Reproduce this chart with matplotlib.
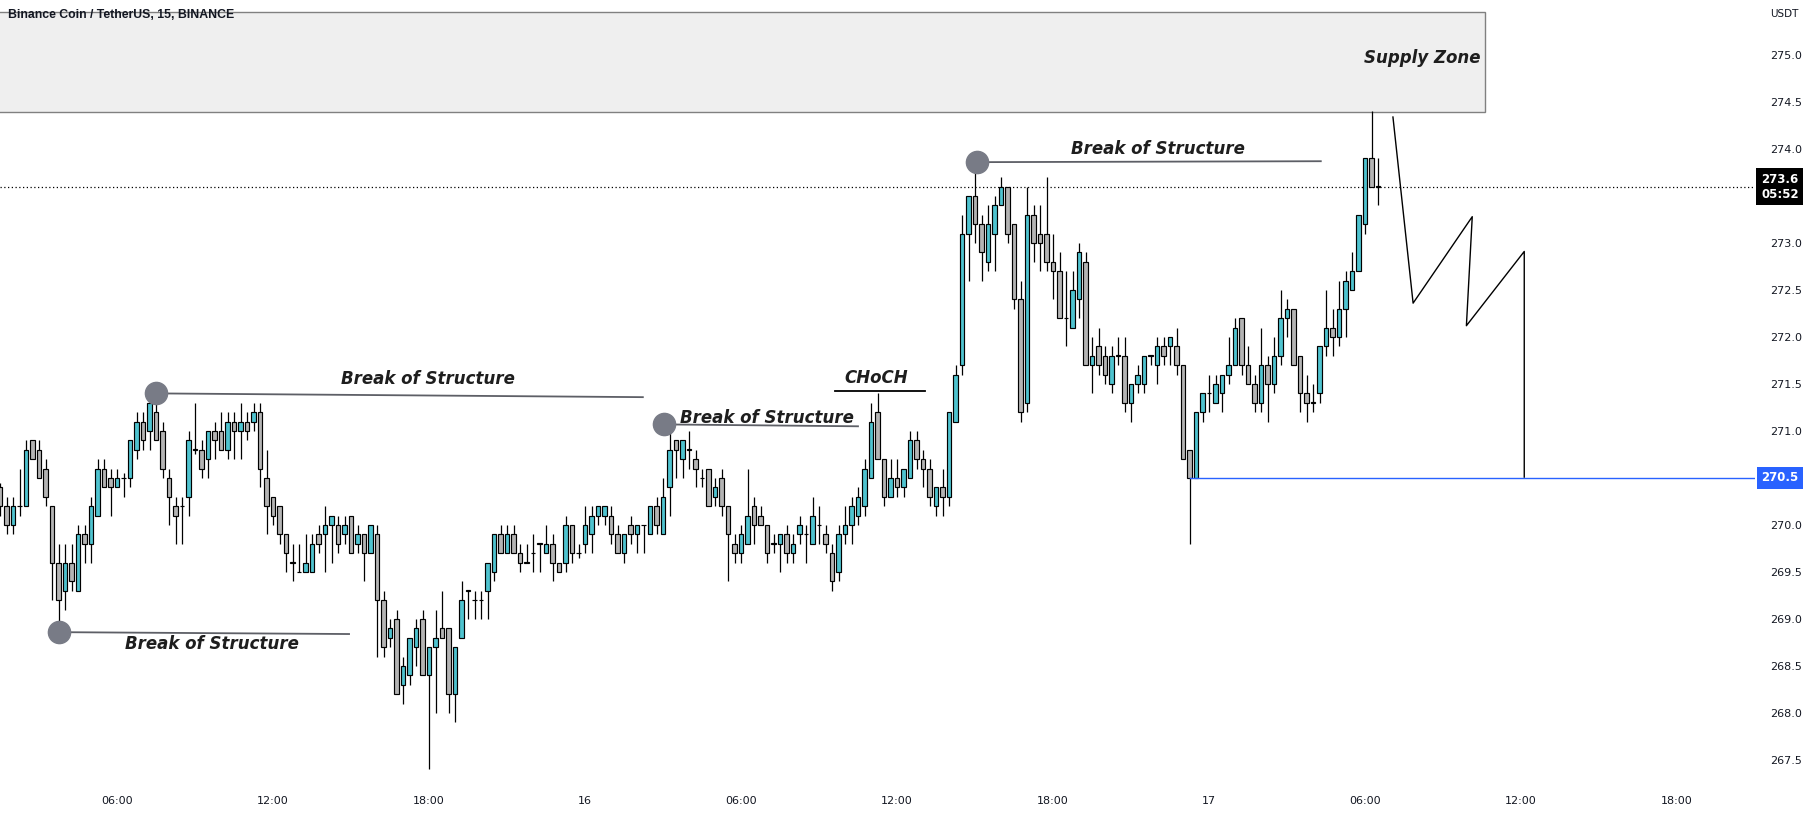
import numpy as np
import matplotlib
matplotlib.use('Agg')
import matplotlib.pyplot as plt
import matplotlib.transforms as mtransforms
from matplotlib.patches import Rectangle

# BNB/USDT 15m candles, bar index counted in 15-minute steps from 15th 00:00
first_bar = 6

opens = [270.40, 270.20, 270.00, 270.20, 270.20, 270.90, 270.80, 270.60, 270.20, 269.60,
         269.30, 269.60, 269.30, 269.90, 269.80, 270.10, 270.60, 270.50, 270.40, 270.50,
         270.50, 270.80, 271.10, 271.00, 271.20, 271.00, 270.50, 270.20, 270.20, 270.30,
         270.80, 270.80, 270.70, 271.00, 271.00, 270.80, 271.10, 271.00, 271.10, 271.10,
         271.20, 270.50, 270.30, 270.20, 269.90, 269.60, 269.50, 269.50, 269.50, 269.90,
         269.90, 270.00, 270.00, 269.90, 270.10, 269.80, 269.90, 269.70, 269.90, 269.20,
         268.80, 269.00, 268.30, 268.40, 268.70, 269.00, 268.40, 268.70, 268.90, 268.90,
         268.20, 268.80, 269.30, 269.20, 269.20, 269.30, 269.50, 269.90, 269.70, 269.90,
         269.70, 269.60, 269.70, 269.80, 269.70, 269.80, 269.60, 269.60, 270.00, 269.70,
         269.80, 269.90, 270.10, 270.10, 270.10, 269.90, 269.70, 270.00, 269.90, 270.00,
         269.90, 270.20, 269.90, 270.40, 270.90, 270.70, 270.80, 270.70, 270.50, 270.60,
         270.30, 270.50, 270.20, 269.80, 269.70, 269.80, 270.20, 270.10, 270.00, 269.80,
         269.80, 269.90, 269.70, 269.90, 269.90, 269.80, 270.00, 269.90, 269.70, 269.50,
         269.90, 270.00, 270.10, 270.20, 270.50, 271.20, 270.70, 270.30, 270.50, 270.40,
         270.50, 270.90, 270.70, 270.60, 270.20, 270.40, 270.30, 271.10, 271.70, 273.10,
         273.50, 273.20, 272.80, 273.10, 273.40, 273.60, 273.20, 272.40, 271.30, 273.30,
         273.10, 273.10, 272.80, 272.70, 272.20, 272.10, 272.40, 272.80, 271.70, 271.90,
         271.80, 271.50, 271.80, 271.80, 271.30, 271.50, 271.50, 271.80, 271.70, 271.90,
         271.90, 271.90, 271.70, 270.80, 270.50, 271.20, 271.40, 271.30, 271.40, 271.60,
         271.70, 272.20, 271.70, 271.50, 271.30, 271.70, 271.50, 271.80, 272.20, 272.30,
         271.80, 271.40, 271.30, 271.40, 271.90, 272.10, 272.00, 272.30, 272.50, 272.70,
         273.20, 273.90, 273.60]
highs = [270.45, 270.30, 270.30, 270.60, 270.90, 270.90, 270.90, 270.70, 270.20, 269.80,
         269.80, 269.80, 270.00, 270.00, 270.30, 270.70, 270.70, 270.60, 270.60, 270.55,
         270.90, 271.20, 271.20, 271.30, 271.40, 271.10, 270.60, 270.30, 270.30, 271.00,
         271.30, 270.90, 271.00, 271.10, 271.20, 271.20, 271.20, 271.30, 271.20, 271.30,
         271.30, 270.80, 270.30, 270.20, 269.90, 269.80, 269.80, 269.90, 269.90, 270.00,
         270.20, 270.10, 270.10, 270.10, 270.10, 270.00, 269.90, 270.00, 270.00, 269.30,
         269.00, 269.10, 268.60, 268.80, 269.00, 269.10, 268.70, 269.10, 269.30, 268.90,
         268.70, 269.40, 269.30, 269.30, 269.30, 269.60, 269.90, 270.00, 270.00, 270.00,
         269.80, 269.80, 269.90, 269.80, 270.00, 269.90, 269.60, 270.10, 270.00, 269.80,
         270.20, 270.20, 270.20, 270.20, 270.20, 270.00, 269.90, 270.10, 270.00, 270.00,
         270.20, 270.30, 270.50, 271.00, 270.90, 270.90, 271.00, 270.80, 270.60, 270.60,
         270.50, 270.60, 270.20, 269.90, 270.00, 270.60, 270.30, 270.20, 270.00, 269.90,
         269.90, 270.00, 269.90, 270.10, 270.00, 270.30, 270.20, 270.00, 269.80, 270.00,
         270.20, 270.30, 270.40, 270.70, 271.30, 271.40, 270.70, 270.70, 270.70, 270.60,
         271.00, 271.00, 270.80, 270.70, 270.40, 270.60, 271.20, 271.70, 273.30, 273.50,
         273.90, 273.30, 273.40, 273.50, 273.70, 273.60, 273.20, 272.60, 273.60, 273.40,
         273.40, 273.70, 273.10, 272.90, 272.70, 272.70, 273.00, 272.90, 272.00, 272.10,
         271.90, 271.90, 272.00, 272.00, 271.50, 271.70, 271.80, 271.80, 272.00, 272.00,
         272.00, 272.10, 271.70, 270.80, 271.20, 271.40, 271.60, 271.60, 271.60, 272.00,
         272.20, 272.20, 271.90, 271.60, 272.10, 271.80, 272.00, 272.50, 272.40, 272.30,
         271.80, 271.60, 271.50, 271.90, 272.50, 272.30, 272.60, 272.70, 272.90, 273.30,
         273.90, 274.40, 273.90]
lows = [270.10, 269.90, 269.90, 270.10, 270.20, 270.70, 270.50, 270.20, 269.20, 268.80,
        269.10, 269.30, 269.30, 269.60, 269.60, 270.10, 270.40, 270.10, 270.40, 270.30,
        270.40, 270.70, 270.80, 270.80, 270.90, 270.50, 270.00, 269.80, 269.80, 270.10,
        270.75, 270.50, 270.50, 270.70, 270.80, 270.70, 270.70, 270.70, 270.90, 271.00,
        270.40, 269.90, 270.00, 269.80, 269.50, 269.40, 269.50, 269.50, 269.50, 269.70,
        269.50, 269.60, 269.70, 269.80, 269.70, 269.70, 269.40, 269.70, 268.60, 268.60,
        268.70, 268.20, 268.10, 268.30, 268.50, 268.40, 267.40, 268.00, 268.80, 268.00,
        267.90, 268.80, 269.00, 269.00, 269.00, 269.00, 269.40, 269.70, 269.70, 269.70,
        269.50, 269.60, 269.50, 269.50, 269.70, 269.40, 269.50, 269.50, 269.60, 269.65,
        269.70, 269.70, 270.00, 270.00, 269.80, 269.70, 269.60, 269.80, 269.70, 269.70,
        269.90, 269.90, 269.90, 270.10, 270.50, 270.50, 270.60, 270.40, 270.40, 270.20,
        270.20, 270.10, 269.40, 269.60, 269.60, 269.80, 269.80, 270.00, 269.60, 269.70,
        269.50, 269.60, 269.60, 269.80, 269.60, 269.80, 269.80, 269.70, 269.30, 269.40,
        269.80, 269.80, 270.00, 270.10, 270.50, 270.70, 270.20, 270.30, 270.30, 270.30,
        270.50, 270.60, 270.40, 270.20, 270.10, 270.10, 270.20, 271.10, 271.60, 272.60,
        273.00, 272.60, 272.70, 272.70, 273.40, 273.00, 272.30, 271.10, 271.20, 272.80,
        272.70, 272.70, 272.40, 272.20, 271.90, 272.10, 272.20, 271.70, 271.40, 271.60,
        271.50, 271.40, 271.70, 271.20, 271.10, 271.40, 271.40, 271.70, 271.50, 271.70,
        271.70, 271.60, 270.70, 269.80, 270.50, 271.10, 271.20, 271.30, 271.20, 271.50,
        271.70, 271.60, 271.50, 271.20, 271.20, 271.10, 271.40, 271.70, 272.00, 271.70,
        271.20, 271.10, 271.20, 271.30, 271.80, 271.80, 271.90, 272.00, 272.50, 272.70,
        273.10, 273.60, 273.40]
closes = [270.20, 270.00, 270.20, 270.20, 270.80, 270.70, 270.50, 270.30, 269.60, 269.20,
          269.60, 269.40, 269.90, 269.80, 270.20, 270.60, 270.40, 270.40, 270.50, 270.50,
          270.90, 271.10, 270.90, 271.30, 270.90, 270.60, 270.30, 270.10, 270.20, 270.90,
          270.80, 270.60, 271.00, 270.90, 270.80, 271.10, 271.00, 271.10, 271.00, 271.20,
          270.60, 270.20, 270.10, 269.90, 269.70, 269.60, 269.50, 269.60, 269.80, 269.80,
          270.00, 270.10, 269.80, 270.00, 269.70, 269.90, 269.70, 270.00, 269.20, 268.70,
          268.90, 268.20, 268.50, 268.80, 268.90, 268.40, 268.70, 268.80, 268.80, 268.20,
          268.70, 269.20, 269.30, 269.20, 269.20, 269.60, 269.90, 269.70, 269.90, 269.70,
          269.60, 269.60, 269.70, 269.80, 269.80, 269.60, 269.50, 270.00, 269.70, 269.70,
          270.00, 270.10, 270.20, 270.20, 269.90, 269.70, 269.90, 269.90, 270.00, 270.00,
          270.20, 270.00, 270.30, 270.80, 270.80, 270.90, 270.80, 270.60, 270.50, 270.20,
          270.40, 270.20, 269.90, 269.70, 269.90, 270.10, 270.00, 270.00, 269.70, 269.80,
          269.90, 269.70, 269.80, 270.00, 269.90, 270.10, 270.00, 269.80, 269.40, 269.90,
          270.00, 270.20, 270.30, 270.60, 271.10, 270.70, 270.30, 270.50, 270.40, 270.60,
          270.90, 270.70, 270.60, 270.30, 270.40, 270.30, 271.20, 271.60, 273.10, 273.50,
          273.20, 272.90, 273.20, 273.40, 273.60, 273.10, 272.40, 271.20, 273.30, 273.00,
          273.00, 272.80, 272.70, 272.20, 272.20, 272.50, 272.90, 271.70, 271.80, 271.70,
          271.60, 271.80, 271.80, 271.30, 271.50, 271.60, 271.80, 271.80, 271.90, 271.80,
          272.00, 271.70, 270.70, 270.50, 271.20, 271.40, 271.40, 271.50, 271.60, 271.70,
          272.10, 271.70, 271.50, 271.30, 271.70, 271.50, 271.80, 272.20, 272.30, 271.70,
          271.40, 271.30, 271.30, 271.90, 272.10, 272.00, 272.30, 272.60, 272.70, 273.30,
          273.90, 273.60, 273.60]

# price axis / time axis labels
price_ticks = [275.0, 274.5, 274.0, 273.0, 272.5, 272.0, 271.5, 271.0, 270.0, 269.5,
               269.0, 268.5, 268.0, 267.5]
time_ticks = [24, 48, 72, 96, 120, 144, 168, 192, 216, 240, 264]
time_labels = ['06:00', '12:00', '18:00', '16', '06:00', '12:00', '18:00', '17',
               '06:00', '12:00', '18:00']

# drawings: (bar, price) pairs
bos_low = [(15, 268.86), (59.7, 268.84)]
bos_high1 = [(30, 271.40), (104.9, 271.36)]
bos_high2 = [(108.1, 271.07), (138, 271.05)]
choch = [(134.5, 271.43), (148.3, 271.43)]
bos_high3 = [(156.3, 273.86), (209.2, 273.87)]
projection_x = [220.3, 223.4, 232.5, 231.6, 240.5, 240.5]
projection_y = [274.34, 272.36, 273.28, 272.12, 272.91, 270.51]
supply_zone = (274.39, 275.46, 234.5)   # bottom, top, right edge bar
last_price = 273.6
support = 270.5

up_col = '#4fc3cf'
down_col = '#b4b4b4'
txt_col = '#131722'

W, H = 1814, 818
fig = plt.figure(figsize=(W / 100, H / 100), dpi=100)
ax_bottom = 785
ax_right = 1755
ax = fig.add_axes([0, (H - ax_bottom) / H, ax_right / W, ax_bottom / H])

o = np.array(opens)
hi = np.array(highs)
lo = np.array(lows)
c = np.array(closes)
x = np.arange(first_bar, first_bar + len(o))
cols = np.where(c >= o, up_col, down_col)

ax.vlines(x, lo, hi, color='black', linewidth=0.9, zorder=2)
ax.bar(x, np.maximum(np.abs(c - o), 0.004), bottom=np.minimum(o, c), width=0.66,
       color=cols, edgecolor='black', linewidth=0.85, zorder=3)

ax.set_xlim(6.0, 276.0)
ax.set_ylim(267.234, 275.585)

lbl = dict(fontsize=12, style='italic', fontweight='bold', color='#1e1e1e', zorder=5)

# supply zone
ax.add_patch(Rectangle((0, supply_zone[0]), supply_zone[2], supply_zone[1] - supply_zone[0],
                       facecolor='#efefef', edgecolor='#808080', linewidth=1.0, zorder=1))
ax.text(supply_zone[2] - 0.8, 274.97, 'Supply Zone', ha='right', va='center', **lbl)

# last price dotted line and support line
ax.axhline(last_price, color='black', linestyle=(0, (1, 2)), linewidth=0.9, zorder=1)
ax.plot([189, 276], [support, support], color='#2962ff', linewidth=1.0, zorder=4)

# structure lines
for seg in [bos_low, bos_high1, bos_high2, choch, bos_high3]:
    xs, ys = zip(*seg)
    lc = 'black' if seg is choch else '#5d5f66'
    ax.plot(xs, ys, color=lc, linewidth=1.3, zorder=4)
for seg in [bos_low, bos_high1, bos_high2, bos_high3]:
    ax.plot(seg[0][0], seg[0][1], 'o', markersize=16, color='#787b86', zorder=6)

ax.text(38.6, 268.73, 'Break of Structure', ha='center', va='center', **lbl)
ax.text(71.8, 271.55, 'Break of Structure', ha='center', va='center', **lbl)
ax.text(124.0, 271.14, 'Break of Structure', ha='center', va='center', **lbl)
ax.text(140.8, 271.56, 'CHoCH', ha='center', va='center', **lbl)
ax.text(184.2, 274.00, 'Break of Structure', ha='center', va='center', **lbl)

# projected path
ax.plot(projection_x, projection_y, color='black', linewidth=1.0, zorder=4)

# axes styling
for s in ax.spines.values():
    s.set_visible(False)
ax.yaxis.tick_right()
ax.set_yticks(price_ticks)
ax.set_yticklabels(['%.1f' % p for p in price_ticks])
ax.tick_params(axis='y', length=0, pad=11, labelsize=8, labelcolor=txt_col)
ax.set_xticks(time_ticks)
ax.set_xticklabels(time_labels)
ax.tick_params(axis='x', length=0, pad=8, labelsize=8, labelcolor=txt_col)

trans = mtransforms.blended_transform_factory(ax.transAxes, ax.transData)
ax.text(1.0035, last_price, '273.6\n05:52', transform=trans, ha='left', va='center',
        fontsize=8.5, color='white', fontweight='bold', linespacing=1.2,
        bbox=dict(boxstyle='square,pad=0.4', facecolor='black', edgecolor='none'),
        clip_on=False, zorder=7)
ax.text(1.0035, support, '270.5', transform=trans, ha='left', va='center',
        fontsize=8.5, color='white', fontweight='bold',
        bbox=dict(boxstyle='square,pad=0.35', facecolor='#2962ff', edgecolor='none'),
        clip_on=False, zorder=7)

fig.text(8 / W, 1 - 15 / H, 'Binance Coin / TetherUS, 15, BINANCE', ha='left', va='center',
         fontsize=8.8, fontweight='bold', family='Liberation Sans', color=txt_col)
fig.text(1770 / W, 1 - 14 / H, 'USDT', ha='left', va='center', fontsize=7.5, color=txt_col)

fig.savefig('out.png', dpi=100, facecolor='white')
